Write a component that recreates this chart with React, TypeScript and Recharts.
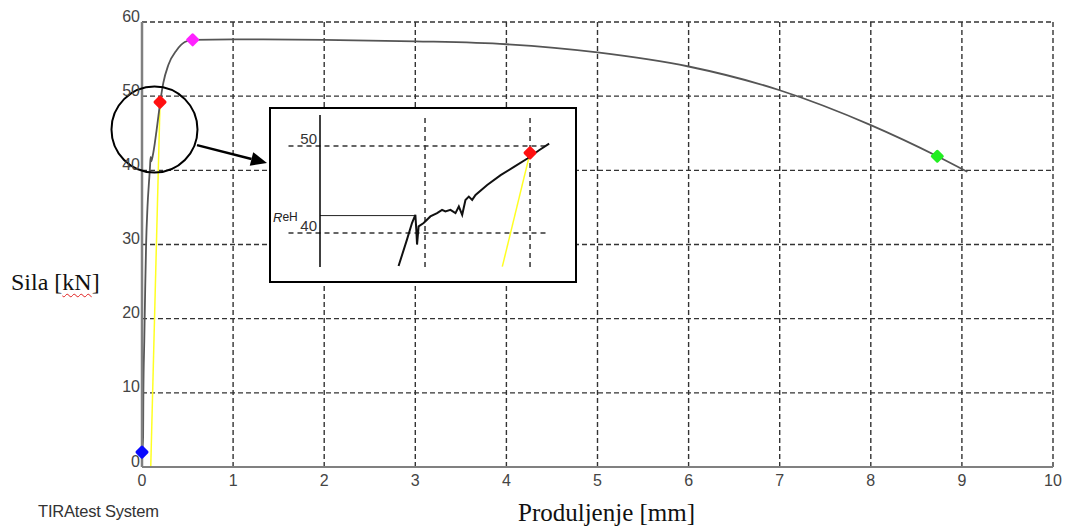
import {
  ComposedChart,
  Line,
  Scatter,
  XAxis,
  YAxis,
  CartesianGrid,
  ReferenceDot,
  ReferenceLine,
} from "recharts";

// ---------------------------------------------------------------------------
// Data
// ---------------------------------------------------------------------------

const X_TICKS = [0, 1, 2, 3, 4, 5, 6, 7, 8, 9, 10];
const Y_TICKS = [0, 10, 20, 30, 40, 50, 60];

// force [kN] vs elongation [mm]
const CURVE_X = [
  0, 0.012, 0.015, 0.025, 0.035, 0.045, 0.06, 0.08, 0.088, 0.095, 0.1, 0.12,
  0.14, 0.16, 0.18, 0.2, 0.234, 0.289, 0.38, 0.47, 0.556, 1.0, 2.0, 3.0, 4.0,
  5.0, 6.0, 7.0, 8.0, 8.73, 9.06,
];
const CURVE_Y = [
  2, 4, 10, 17, 24, 30, 35, 39, 40.5, 41.8, 41.2, 42.1, 43.6, 45.4, 47.3, 49.2,
  51.8, 54.2, 56.2, 57.3, 57.6, 57.65, 57.6, 57.4, 57.0, 55.9, 54.0, 50.8, 46.1,
  41.9, 39.8,
];

// offset (yellow) line
const OFFSET_X = [0.096, 0.198];
const OFFSET_Y = [0, 49.2];

const MARK_X = [0, 0.198, 0.556, 8.73];
const MARK_Y = [2, 49.2, 57.6, 41.9];
const MARK_COLORS = ["#0a0aff", "#ff1010", "#ff22ff", "#22ee22"];

// zoom inset: yield region (x in inset units)
const INSET_X = [
  0.748, 0.828, 0.876, 0.908, 0.917, 0.924, 0.939, 0.987, 1.051, 1.115, 1.162,
  1.194, 1.242, 1.29, 1.322, 1.354, 1.385, 1.417, 1.449, 1.481, 1.592, 1.72,
  1.847, 1.975, 2.086, 2.182,
];
const INSET_Y = [
  36.2, 39.24, 41.14, 42.09, 40.38, 38.67, 40.76, 41.14, 41.9, 42.28, 42.66,
  42.47, 42.66, 42.28, 43.04, 42.09, 43.8, 44.18, 43.8, 44.37, 45.51, 46.65,
  47.6, 48.56, 49.51, 50.27,
];
const INSET_OFFSET_X = [1.736, 2.0];
const INSET_OFFSET_Y = [36.13, 49.2];
const INSET_TICKS = [40, 50];
const REH = 42.0;

const curve = CURVE_X.map((x, i) => ({ x, y: CURVE_Y[i] }));
const offsetLine = OFFSET_X.map((x, i) => ({ x, y: OFFSET_Y[i] }));
const marks = MARK_X.map((x, i) => ({ x, y: MARK_Y[i], color: MARK_COLORS[i] }));
const insetCurve = INSET_X.map((x, i) => ({ x, y: INSET_Y[i] }));
const insetOffset = INSET_OFFSET_X.map((x, i) => ({ x, y: INSET_OFFSET_Y[i] }));
const insetMark = [{ x: 2.0, y: 49.2, color: "#ff1010" }];

const SANS = "'Liberation Sans', Arial, sans-serif";
const SERIF = "'Liberation Serif', 'Times New Roman', serif";

// ---------------------------------------------------------------------------
// Shapes
// ---------------------------------------------------------------------------

function Diamond(props: any) {
  const { cx, cy, payload } = props;
  const s = 5;
  return (
    <polygon
      points={`${cx},${cy - s} ${cx + s},${cy} ${cx},${cy + s} ${cx - s},${cy}`}
      fill={payload.color}
      stroke={payload.color}
      strokeWidth={3}
      strokeLinejoin="round"
    />
  );
}

function YTick({ x, y, payload }: any) {
  return (
    <text x={x} y={y - 6} textAnchor="end" dominantBaseline="central" fill="#444" fontSize={16} fontFamily={SANS}>
      {payload.value}
    </text>
  );
}

function XTick({ x, y, payload }: any) {
  return (
    <text x={x} y={y + 13} textAnchor="middle" dominantBaseline="central" fill="#444" fontSize={16} fontFamily={SANS}>
      {payload.value}
    </text>
  );
}

function InsetTick({ x, y, payload }: any) {
  return (
    <text x={x} y={y - 7} textAnchor="end" dominantBaseline="central" fill="#333" fontSize={15} fontFamily={SANS}>
      {payload.value}
    </text>
  );
}

function Arrow({ x1, y1, x2, y2 }: any) {
  const ang = Math.atan2(y2 - y1, x2 - x1);
  const len = 16;
  const half = 7;
  const bx = x2 - len * Math.cos(ang);
  const by = y2 - len * Math.sin(ang);
  const px = -Math.sin(ang) * half;
  const py = Math.cos(ang) * half;
  return (
    <g>
      <line x1={x1} y1={y1} x2={bx} y2={by} stroke="#000" strokeWidth={2.5} />
      <polygon points={`${x2},${y2} ${bx + px},${by + py} ${bx - px},${by - py}`} fill="#000" />
    </g>
  );
}

function RehLabel({ viewBox }: any) {
  return (
    <text x={viewBox.x - 47} y={viewBox.y + 1} dominantBaseline="central" fill="#222" fontSize={13} fontFamily={SANS}>
      <tspan fontStyle="italic">R</tspan>
      <tspan fontSize={12}>eH</tspan>
    </text>
  );
}

// ---------------------------------------------------------------------------
// Component
// ---------------------------------------------------------------------------

export default function App() {
  return (
    <div style={{ position: "absolute", left: 0, top: 0, width: 1065, height: 528, background: "#fff" }}>
      <ComposedChart width={1065} height={528} margin={{ top: 22, right: 12, bottom: 31, left: 0 }}>
        <CartesianGrid stroke="#333" strokeDasharray="5 3" strokeWidth={1.4} />
        <XAxis
          type="number"
          dataKey="x"
          domain={[0, 10]}
          ticks={X_TICKS}
          height={30}
          axisLine={{ stroke: "#808080", strokeWidth: 2 }}
          tickLine={false}
          tickSize={0}
          tickMargin={0}
          tick={<XTick />}
        />
        <YAxis
          type="number"
          dataKey="y"
          domain={[0, 60]}
          ticks={Y_TICKS}
          width={142}
          axisLine={{ stroke: "#808080", strokeWidth: 2.5 }}
          tickLine={false}
          tickSize={0}
          tickMargin={2}
          tick={<YTick />}
        />
        <Line
          data={offsetLine}
          dataKey="y"
          type="linear"
          stroke="#ffff22"
          strokeWidth={1.5}
          dot={false}
          isAnimationActive={false}
        />
        <Line
          data={curve}
          dataKey="y"
          type="monotone"
          stroke="#555"
          strokeWidth={1.8}
          dot={false}
          isAnimationActive={false}
        />
        <Scatter data={marks} dataKey="y" shape={<Diamond />} isAnimationActive={false} />
        <ReferenceDot x={0.137} y={45.5} r={43} fill="none" stroke="#000" strokeWidth={2} ifOverflow="visible" />
        <ReferenceLine
          segment={[
            { x: 0.604, y: 43.4 },
            { x: 1.372, y: 41.0 },
          ]}
          ifOverflow="visible"
          shape={(p: any) => <Arrow {...p} />}
        />
      </ComposedChart>

      {/* zoom inset */}
      <div
        style={{
          position: "absolute",
          left: 269,
          top: 107,
          width: 304,
          height: 172,
          border: "2px solid #000",
          background: "#fff",
        }}
      >
        <ComposedChart width={304} height={172} margin={{ top: 6, right: 4, bottom: 14, left: 0 }}>
          <XAxis type="number" dataKey="x" domain={[0, 2.39]} hide />
          <YAxis
            type="number"
            dataKey="y"
            domain={[36.09, 53.56]}
            ticks={INSET_TICKS}
            width={49}
            axisLine={{ stroke: "#000", strokeWidth: 1.5 }}
            tickLine={false}
            tickSize={0}
            tickMargin={3}
            tick={<InsetTick />}
          />
          {INSET_TICKS.map((t) => (
            <ReferenceLine
              key={t}
              segment={[
                { x: -0.3, y: t },
                { x: 2.17, y: t },
              ]}
              ifOverflow="visible"
              stroke="#333"
              strokeWidth={1.5}
              strokeDasharray="5 4"
            />
          ))}
          <ReferenceLine x={1} stroke="#333" strokeWidth={1.5} strokeDasharray="5 4" />
          <ReferenceLine x={2} stroke="#333" strokeWidth={1.5} strokeDasharray="5 4" />
          <ReferenceLine
            segment={[
              { x: 0, y: REH },
              { x: 0.905, y: REH },
            ]}
            stroke="#222"
            strokeWidth={1}
            label={<RehLabel />}
          />
          <Line
            data={insetOffset}
            dataKey="y"
            type="linear"
            stroke="#ffff22"
            strokeWidth={1.5}
            dot={false}
            isAnimationActive={false}
          />
          <Line
            data={insetCurve}
            dataKey="y"
            type="linear"
            stroke="#111"
            strokeWidth={2}
            dot={false}
            isAnimationActive={false}
          />
          <Scatter data={insetMark} dataKey="y" shape={<Diamond />} isAnimationActive={false} />
        </ComposedChart>
      </div>

      {/* axis titles */}
      <div style={{ position: "absolute", left: 11, top: 270, fontFamily: SERIF, fontSize: 24, lineHeight: "24px", color: "#111", whiteSpace: "nowrap" }}>
        Sila [
        <span style={{ textDecoration: "underline wavy #e02020", textDecorationThickness: 1, textUnderlineOffset: 3 }}>kN</span>]
      </div>
      <div style={{ position: "absolute", left: 518, top: 500, fontFamily: SERIF, fontSize: 25, lineHeight: "25px", color: "#111", whiteSpace: "nowrap" }}>
        Produljenje [mm]
      </div>
      <div style={{ position: "absolute", left: 38, top: 503, fontFamily: SANS, fontSize: 16.5, lineHeight: "16px", color: "#333", letterSpacing: -0.2, whiteSpace: "nowrap" }}>
        TIRAtest System
      </div>
    </div>
  );
}
